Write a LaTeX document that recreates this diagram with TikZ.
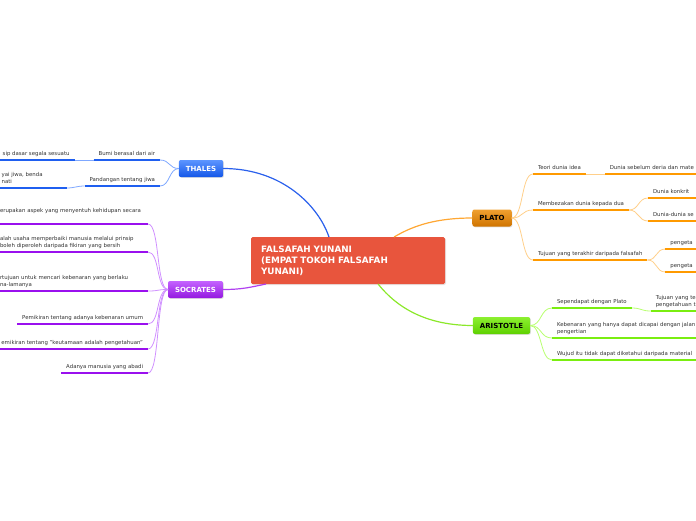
\documentclass[tikz,border=0pt]{standalone}
\usepackage{fontspec}
\setmainfont{DejaVu Sans}
\usetikzlibrary{shapes,arrows,positioning,shadows}

\definecolor{rootred}{HTML}{E8553D}
\definecolor{thtop}{HTML}{5C95FF}
\definecolor{thbot}{HTML}{1457E8}
\definecolor{thmain}{HTML}{2A60EC}
\definecolor{thblue}{HTML}{1F5FF0}
\definecolor{thlight}{HTML}{7FA8FF}
\definecolor{sotop}{HTML}{C463FF}
\definecolor{sobot}{HTML}{9418E0}
\definecolor{somain}{HTML}{B040F0}
\definecolor{sopurple}{HTML}{9A10EE}
\definecolor{solight}{HTML}{D090FF}
\definecolor{pltop}{HTML}{F0A030}
\definecolor{plbot}{HTML}{CF7400}
\definecolor{plmain}{HTML}{FFA733}
\definecolor{plorange}{HTML}{FF9A00}
\definecolor{pllight}{HTML}{FFCF8A}
\definecolor{artop}{HTML}{8CF030}
\definecolor{arbot}{HTML}{5ED000}
\definecolor{armain}{HTML}{8BE82A}
\definecolor{argreen}{HTML}{7AEE10}
\definecolor{arlight}{HTML}{B8FF70}
\definecolor{leafgray}{HTML}{333333}

\begin{document}
\begin{tikzpicture}[
    x=1pt, y=-1pt,
    root/.style={rectangle, fill=rootred, rounded corners=1.5pt, minimum width=194pt, minimum height=47pt, text width=174pt, align=left, inner xsep=10pt, outer sep=0pt, text=white, font=\fontsize{8.8}{11}\selectfont\bfseries, drop shadow={opacity=0.2, shadow xshift=1pt, shadow yshift=-1pt}},
    person/.style={rectangle, rounded corners=2pt, minimum height=17pt, inner xsep=7pt, outer sep=0pt, font=\fontsize{7}{8}\selectfont\bfseries, drop shadow={opacity=0.25, shadow xshift=0.8pt, shadow yshift=-0.8pt}},
    thalesbox/.style={person, top color=thtop, bottom color=thbot, text=white},
    socratesbox/.style={person, top color=sotop, bottom color=sobot, text=white},
    platobox/.style={person, top color=pltop, bottom color=plbot, text=black},
    aristotlebox/.style={person, top color=artop, bottom color=arbot, text=black},
    leaf/.style={font=\fontsize{5.4}{7}\selectfont, text=leafgray, align=left, inner xsep=5pt, inner ysep=2.8pt, outer sep=0pt, execute at end node=\strut},
    mainline/.style={line width=1.2pt},
    subline/.style={line width=0.8pt},
    uline/.style={line width=2.2pt}
]
    \useasboundingbox (0,0) rectangle (696,520);
    \clip (0,0) rectangle (696,520);

    % Centre and the four philosophers
    \node [root] (root) at (348,260.5) {FALSAFAH YUNANI\\(EMPAT TOKOH FALSAFAH\\YUNANI)};
    \node [thalesbox] (thales) at (201,168.5) {THALES};
    \node [socratesbox] (socrates) at (195.5,289.5) {SOCRATES};
    \node [platobox] (plato) at (492,218) {PLATO};
    \node [aristotlebox] (aristotle) at (501.5,325.5) {ARISTOTLE};

    % Thales
    \node [leaf, anchor=south east] (t1) at (160,160) {Bumi berasal dari air};
    \node [leaf, left=19pt of t1.south west, anchor=south east] (t1a) {sip dasar segala sesuatu};
    \node [leaf, anchor=south east] (t2) at (160,186) {Pandangan tentang jiwa};
    \node [leaf, text width=60pt, below left=2pt and 18pt of t2.south west, anchor=south east] (t2a) {yai jiwa, benda\\nati};

    % Socrates
    \node [leaf, anchor=south east, text width=143pt] (s1) at (148,224) {erupakan aspek yang menyentuh kehidupan secara\\\mbox{}};
    \node [leaf, anchor=south east, text width=143pt] (s2) at (148,252) {alah usaha memperbaiki manusia melalui prinsip\\boleh diperoleh daripada fikiran yang bersih};
    \node [leaf, anchor=south east, text width=143pt] (s3) at (148,291) {rtujuan untuk mencari kebenaran yang berlaku\\na-lamanya};
    \node [leaf, anchor=south east] (s4) at (148,324) {Pemikiran tentang adanya kebenaran umum};
    \node [leaf, anchor=south east] (s5) at (148,349) {emikiran tentang "keutamaan adalah pengetahuan"};
    \node [leaf, anchor=south east] (s6) at (148,373) {Adanya manusia yang abadi};

    % Plato
    \node [leaf, anchor=south west] (p1) at (533,174) {Teori dunia idea};
    \node [leaf, text width=100pt, right=19pt of p1.south east, anchor=south west] (p1a) {Dunia sebelum deria dan mate};
    \node [leaf, anchor=south west] (p2) at (533,210) {Membezakan dunia kepada dua};
    \node [leaf, text width=60pt, above right=12pt and 19pt of p2.south east, anchor=south west] (p2a) {Dunia konkrit};
    \node [leaf, text width=60pt, below right=11pt and 19pt of p2.south east, anchor=south west] (p2b) {Dunia-dunia se};
    \node [leaf, anchor=south west] (p3) at (533,260) {Tujuan yang terakhir daripada falsafah};
    \node [leaf, text width=40pt, above right=11pt and 18pt of p3.south east, anchor=south west] (p3a) {pengeta};
    \node [leaf, text width=40pt, below right=12pt and 18pt of p3.south east, anchor=south west] (p3b) {pengeta};

    % Aristotle
    \node [leaf, anchor=south west] (a1) at (552,308) {Sependapat dengan Plato};
    \node [leaf, text width=60pt, below right=3pt and 19pt of a1.south east, anchor=south west] (a1a) {Tujuan yang te\\pengetahuan t};
    \node [leaf, anchor=south west, text width=160pt] (a2) at (552,338) {Kebenaran yang hanya dapat dicapai dengan jalan\\pengertian};
    \node [leaf, anchor=south west, text width=160pt] (a3) at (552,360) {Wujud itu tidak dapat diketahui daripada material};

    % Main branches
    \draw [mainline, thmain] (root.129) .. controls +(-10,-30) and +(60,0) .. (thales.east);
    \draw [mainline, somain] (root.196) .. controls +(-15,3) and +(20,0) .. (socrates.east);
    \draw [mainline, plmain] (root.27) .. controls +(20,-12) and +(-35,0) .. (plato.west);
    \draw [mainline, armain] (root.-38) .. controls +(20,25) and +(-45,0) .. (aristotle.west);

    % Sub branches
    \foreach \n in {t1,t2}
        \draw [subline, thlight] (thales.west) .. controls +(-10,0) and +(10,0) .. (\n.south east);
    \draw [subline, thlight] (t1.south west) -- (t1a.south east);
    \draw [subline, thlight] (t2.south west) .. controls +(-8,0) and +(8,0) .. (t2a.south east);

    \foreach \n in {s1,s2,s3,s4,s5,s6}
        \draw [subline, solight] (socrates.west) .. controls +(-12,0) and +(12,0) .. (\n.south east);

    \foreach \n in {p1,p2,p3}
        \draw [subline, pllight] (plato.east) .. controls +(12,0) and +(-12,0) .. (\n.south west);
    \draw [subline, pllight] (p1.south east) -- (p1a.south west);
    \foreach \n in {p2a,p2b}
        \draw [subline, pllight] (p2.south east) .. controls +(10,0) and +(-10,0) .. (\n.south west);
    \foreach \n in {p3a,p3b}
        \draw [subline, pllight] (p3.south east) .. controls +(10,0) and +(-10,0) .. (\n.south west);

    \foreach \n in {a1,a2,a3}
        \draw [subline, arlight] (aristotle.east) .. controls +(12,0) and +(-12,0) .. (\n.south west);
    \draw [subline, arlight] (a1.south east) .. controls +(10,0) and +(-10,0) .. (a1a.south west);

    % Underlines
    \foreach \n in {t1,t1a,t2,t2a}
        \draw [uline, thblue] (\n.south west) -- (\n.south east);
    \foreach \n in {s1,s2,s3,s4,s5,s6}
        \draw [uline, sopurple] (\n.south west) -- (\n.south east);
    \foreach \n in {p1,p1a,p2,p2a,p2b,p3,p3a,p3b}
        \draw [uline, plorange] (\n.south west) -- (\n.south east);
    \foreach \n in {a1,a1a,a2,a3}
        \draw [uline, argreen] (\n.south west) -- (\n.south east);

\end{tikzpicture}
\end{document}
